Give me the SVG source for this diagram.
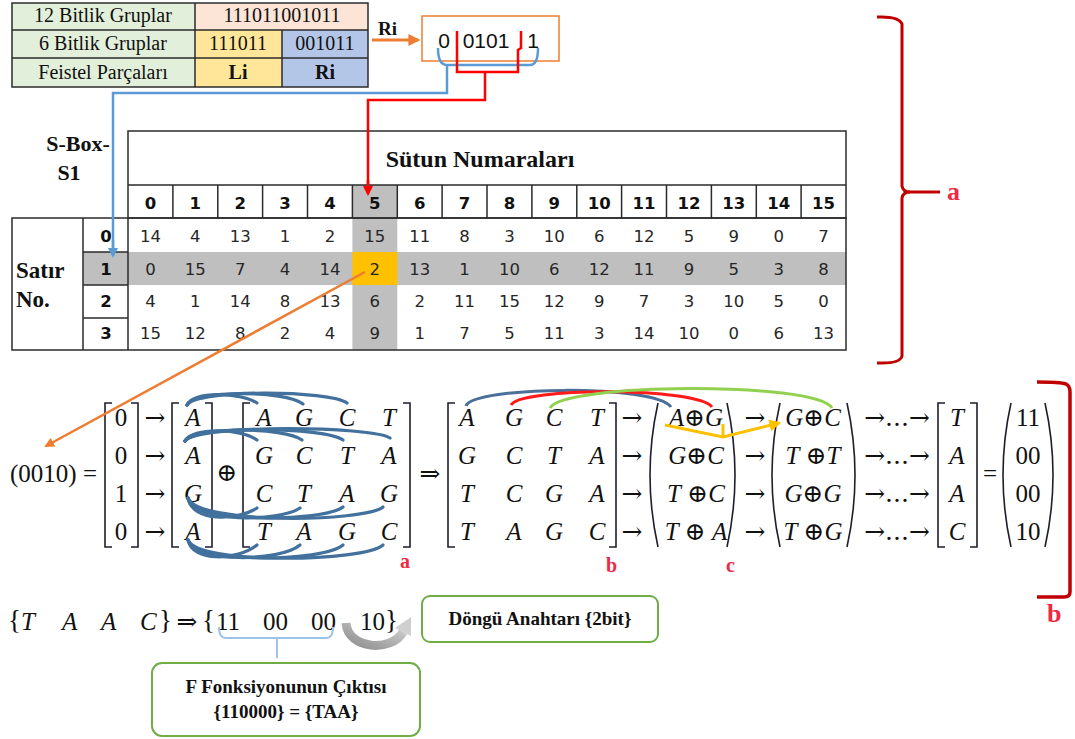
<svg xmlns="http://www.w3.org/2000/svg" width="1075" height="739" viewBox="0 0 1075 739">
<style>
.ser{font-family:"Liberation Serif","DejaVu Serif",serif;fill:#111}
.b{font-weight:bold}
.t20{font-size:20px}
.ctr{text-anchor:middle}
.grid{fill:none;stroke:#2b2b2b;stroke-width:1.5}
.hd{font-family:"DejaVu Sans","Liberation Sans",sans-serif;font-weight:bold;font-size:16.5px;fill:#111;text-anchor:middle}
.num{font-family:"DejaVu Sans","Liberation Sans",sans-serif;font-size:16.5px;fill:#262626;text-anchor:middle}
.m{font-family:"Liberation Serif","DejaVu Serif",serif;font-size:25px;fill:#111}
.mi{font-style:italic}
.ar{font-family:"DejaVu Serif","DejaVu Sans",serif;font-size:25px;fill:#111;text-anchor:middle}
.br{fill:none;stroke:#1e1e2e;stroke-width:1.6}
.arcb{fill:none;stroke:#41719c;stroke-width:3.2;stroke-linecap:round}
.lab{font-family:"Liberation Serif","DejaVu Serif",serif;font-weight:bold;fill:#ee2a45}
.box{fill:#fff;stroke:#70ad47;stroke-width:2}
</style>
<defs>
<marker id="ah-o" viewBox="0 0 10 10" refX="8" refY="5" markerWidth="4" markerHeight="4" orient="auto"><path d="M0,0 L10,5 L0,10 z" fill="#ed7d31"/></marker>
<marker id="ah-b" viewBox="0 0 10 10" refX="8" refY="5" markerWidth="4" markerHeight="4" orient="auto"><path d="M0,0 L10,5 L0,10 z" fill="#5b9bd5"/></marker>
<marker id="ah-r" viewBox="0 0 10 10" refX="8" refY="5" markerWidth="4" markerHeight="4" orient="auto"><path d="M0,0 L10,5 L0,10 z" fill="#ff0000"/></marker>
<marker id="ah-y" viewBox="0 0 10 10" refX="8" refY="5" markerWidth="4" markerHeight="4" orient="auto"><path d="M0,0 L10,5 L0,10 z" fill="#ffc000"/></marker>
<linearGradient id="gg" x1="0" y1="1" x2="1" y2="0"><stop offset="0" stop-color="#8f8f8f"/><stop offset="1" stop-color="#d4d4d4"/></linearGradient>
</defs>

<g id="bit-table">
<rect x="12" y="3" width="183" height="84" fill="#e2efda"/>
<rect x="195" y="3" width="173" height="27" fill="#fce4d6"/>
<rect x="195" y="30" width="87" height="57" fill="#ffe699"/>
<rect x="282" y="30" width="86" height="57" fill="#b4c6e7"/>
<rect x="12" y="3" width="356" height="84" class="grid"/>
<path class="grid" d="M12,30 H368 M12,58 H368 M195,3 V87 M282,30 V87"/>
<text class="ser t20 ctr" x="103" y="22">12 Bitlik Gruplar</text>
<text class="ser t20 ctr" x="282" y="22">111011001011</text>
<text class="ser t20 ctr" x="103" y="50">6 Bitlik Gruplar</text>
<text class="ser t20 ctr" x="238" y="50">111011</text>
<text class="ser t20 ctr" x="325" y="50">001011</text>
<text class="ser t20 ctr" x="103" y="79">Feistel Parçaları</text>
<text class="ser t20 ctr b" x="238" y="79">Li</text>
<text class="ser t20 ctr b" x="325" y="79">Ri</text>
</g>

<g id="ri-box">
<rect x="422" y="16" width="137" height="45" fill="#fff" stroke="#ed7d31" stroke-width="1.5"/>
<text x="444" y="48" font-family="Liberation Sans, sans-serif" font-size="21" fill="#111" text-anchor="middle">0</text>
<text x="486" y="48" font-family="Liberation Sans, sans-serif" font-size="21" fill="#111" text-anchor="middle">0101</text>
<text x="533" y="48" font-family="Liberation Sans, sans-serif" font-size="21" fill="#111" text-anchor="middle">1</text>
<text class="ser b" x="378" y="35" font-size="19">Ri</text>
</g>

<g id="sbox">
<rect x="352.4" y="185" width="44.9" height="165" fill="#bfbfbf"/>
<rect x="83" y="252" width="763" height="33" fill="#bfbfbf"/>
<rect x="352.4" y="252" width="44.9" height="33" fill="#ffc000"/>
<rect x="128" y="131" width="718" height="87" class="grid"/>
<path class="grid" d="M128,185 H846 M172.9,185 V218 M217.8,185 V218 M262.6,185 V218 M307.5,185 V218 M352.4,185 V218 M397.3,185 V218 M442.1,185 V218 M487,185 V218 M531.9,185 V218 M576.8,185 V218 M621.6,185 V218 M666.5,185 V218 M711.4,185 V218 M756.3,185 V218 M801.1,185 V218"/>
<rect x="12" y="218" width="834" height="132" class="grid"/>
<path class="grid" d="M83,218 V350 M128,218 V350 M83,252 H128 M83,285 H128 M83,318 H128"/>
<text class="ser b" x="78" y="151" font-size="22" text-anchor="middle">S-Box-</text>
<text class="ser b" x="69" y="180" font-size="22" text-anchor="middle">S1</text>
<text class="ser b" x="480" y="167" font-size="24" text-anchor="middle">Sütun Numaraları</text>
<text class="ser b" x="16" y="278" font-size="23">Satır</text>
<text class="ser b" x="16" y="307" font-size="23">No.</text>
<g class="hd">
<text x="150.4" y="209">0</text><text x="195.3" y="209">1</text><text x="240.2" y="209">2</text><text x="285.1" y="209">3</text><text x="330" y="209">4</text><text x="374.8" y="209">5</text><text x="419.7" y="209">6</text><text x="464.6" y="209">7</text><text x="509.4" y="209">8</text><text x="554.3" y="209">9</text><text x="599.2" y="209">10</text><text x="644.1" y="209">11</text><text x="689" y="209">12</text><text x="733.8" y="209">13</text><text x="778.7" y="209">14</text><text x="823.6" y="209">15</text>
<text x="106" y="242">0</text><text x="106" y="275">1</text><text x="106" y="307">2</text><text x="106" y="339">3</text>
</g>
<g class="num">
<text x="150.4" y="242">14</text><text x="195.3" y="242">4</text><text x="240.2" y="242">13</text><text x="285.1" y="242">1</text><text x="330" y="242">2</text><text x="374.8" y="242">15</text><text x="419.7" y="242">11</text><text x="464.6" y="242">8</text><text x="509.4" y="242">3</text><text x="554.3" y="242">10</text><text x="599.2" y="242">6</text><text x="644.1" y="242">12</text><text x="689" y="242">5</text><text x="733.8" y="242">9</text><text x="778.7" y="242">0</text><text x="823.6" y="242">7</text>
<text x="150.4" y="275">0</text><text x="195.3" y="275">15</text><text x="240.2" y="275">7</text><text x="285.1" y="275">4</text><text x="330" y="275">14</text><text x="374.8" y="275">2</text><text x="419.7" y="275">13</text><text x="464.6" y="275">1</text><text x="509.4" y="275">10</text><text x="554.3" y="275">6</text><text x="599.2" y="275">12</text><text x="644.1" y="275">11</text><text x="689" y="275">9</text><text x="733.8" y="275">5</text><text x="778.7" y="275">3</text><text x="823.6" y="275">8</text>
<text x="150.4" y="307">4</text><text x="195.3" y="307">1</text><text x="240.2" y="307">14</text><text x="285.1" y="307">8</text><text x="330" y="307">13</text><text x="374.8" y="307">6</text><text x="419.7" y="307">2</text><text x="464.6" y="307">11</text><text x="509.4" y="307">15</text><text x="554.3" y="307">12</text><text x="599.2" y="307">9</text><text x="644.1" y="307">7</text><text x="689" y="307">3</text><text x="733.8" y="307">10</text><text x="778.7" y="307">5</text><text x="823.6" y="307">0</text>
<text x="150.4" y="339">15</text><text x="195.3" y="339">12</text><text x="240.2" y="339">8</text><text x="285.1" y="339">2</text><text x="330" y="339">4</text><text x="374.8" y="339">9</text><text x="419.7" y="339">1</text><text x="464.6" y="339">7</text><text x="509.4" y="339">5</text><text x="554.3" y="339">11</text><text x="599.2" y="339">3</text><text x="644.1" y="339">14</text><text x="689" y="339">10</text><text x="733.8" y="339">0</text><text x="778.7" y="339">6</text><text x="823.6" y="339">13</text>
</g>
</g>

<g id="brace-a">
<path d="M877,17 Q899,16 902,24 V186 Q903,192 910,192 Q903,192 902,198 V356 Q900,364 877,363" fill="none" stroke="#c00000" stroke-width="3"/>
<path d="M908,192 H940" stroke="#c00000" stroke-width="3"/>
<text class="lab" x="947" y="200" font-size="26">a</text>
</g>

<g id="bracket-b">
<path d="M1037,382 Q1060,382 1066,384 Q1070,386 1070,392 V592 Q1070,597 1064,597 H1037" fill="none" stroke="#c00000" stroke-width="3.5"/>
<text class="lab" x="1047" y="622" font-size="26">b</text>
</g>

<g id="matrix-eq" class="m">
<text x="10" y="482">(0010) =</text>
<path class="br" d="M112,403 H105 V547 H112 M131,403 H138 V547 H131"/>
<text class="ctr" x="121" y="426">0</text><text class="ctr" x="121" y="464">0</text><text class="ctr" x="121" y="502">1</text><text class="ctr" x="121" y="540">0</text>
<text class="ar" x="155" y="426">→</text><text class="ar" x="155" y="464">→</text><text class="ar" x="155" y="502">→</text><text class="ar" x="155" y="540">→</text>
<path class="br" d="M179,403 H172 V547 H179 M205,403 H212 V547 H205"/>
<g class="mi ctr"><text x="193" y="426">A</text><text x="193" y="464">A</text><text x="193" y="502">G</text><text x="193" y="540">A</text></g>
<text class="ar" x="227" y="481" font-size="22">⊕</text>
<path class="br" d="M250,403 H243 V547 H250 M403,403 H410 V547 H403"/>
<g class="mi ctr">
<text x="264" y="426">A</text><text x="304" y="426">G</text><text x="347" y="426">C</text><text x="389" y="426">T</text>
<text x="264" y="464">G</text><text x="304" y="464">C</text><text x="347" y="464">T</text><text x="389" y="464">A</text>
<text x="264" y="502">C</text><text x="304" y="502">T</text><text x="347" y="502">A</text><text x="389" y="502">G</text>
<text x="264" y="540">T</text><text x="304" y="540">A</text><text x="347" y="540">G</text><text x="389" y="540">C</text>
</g>
<text class="ar" x="430" y="482">⇒</text>
<path class="br" d="M455,403 H448 V547 H455 M609,403 H616 V547 H609"/>
<g class="mi ctr">
<text x="467" y="426">A</text><text x="514" y="426">G</text><text x="554" y="426">C</text><text x="597" y="426">T</text>
<text x="467" y="464">G</text><text x="514" y="464">C</text><text x="554" y="464">T</text><text x="597" y="464">A</text>
<text x="467" y="502">T</text><text x="514" y="502">C</text><text x="554" y="502">G</text><text x="597" y="502">A</text>
<text x="467" y="540">T</text><text x="514" y="540">A</text><text x="554" y="540">G</text><text x="597" y="540">C</text>
</g>
<text class="ar" x="632" y="426">→</text><text class="ar" x="632" y="464">→</text><text class="ar" x="632" y="502">→</text><text class="ar" x="632" y="540">→</text>
<path class="br" d="M658,403 Q642,475 658,547 M727,403 Q743,475 727,547"/>
<text class="ctr" x="696" y="426"><tspan class="mi">A</tspan>⊕<tspan class="mi">G</tspan></text>
<text class="ctr" x="696" y="464"><tspan class="mi">G</tspan>⊕<tspan class="mi">C</tspan></text>
<text class="ctr" x="696" y="502"><tspan class="mi">T</tspan> ⊕<tspan class="mi">C</tspan></text>
<text class="ctr" x="696" y="540"><tspan class="mi">T</tspan> ⊕ <tspan class="mi">A</tspan></text>
<text class="ar" x="755" y="426">→</text><text class="ar" x="755" y="464">→</text><text class="ar" x="755" y="502">→</text><text class="ar" x="755" y="540">→</text>
<path class="br" d="M780,403 Q764,475 780,547 M847,403 Q863,475 847,547"/>
<text class="ctr" x="813" y="426"><tspan class="mi">G</tspan>⊕<tspan class="mi">C</tspan></text>
<text class="ctr" x="813" y="464"><tspan class="mi">T</tspan> ⊕<tspan class="mi">T</tspan></text>
<text class="ctr" x="813" y="502"><tspan class="mi">G</tspan>⊕<tspan class="mi">G</tspan></text>
<text class="ctr" x="813" y="540"><tspan class="mi">T</tspan> ⊕<tspan class="mi">G</tspan></text>
<text class="ar" x="897" y="426">→...→</text><text class="ar" x="897" y="464">→...→</text><text class="ar" x="897" y="502">→...→</text><text class="ar" x="897" y="540">→...→</text>
<path class="br" d="M945,403 H938 V547 H945 M970,403 H977 V547 H970"/>
<g class="mi ctr"><text x="957" y="426">T</text><text x="957" y="464">A</text><text x="957" y="502">A</text><text x="957" y="540">C</text></g>
<text class="ctr" x="990" y="482">=</text>
<path class="br" d="M1011,403 Q995,475 1011,547 M1045,403 Q1061,475 1045,547"/>
<text class="ctr" x="1028" y="426">11</text><text class="ctr" x="1028" y="464">00</text><text class="ctr" x="1028" y="502">00</text><text class="ctr" x="1028" y="540">10</text>
<text class="lab" x="400" y="568" font-size="20">a</text>
<text class="lab" x="606" y="572" font-size="20">b</text>
<text class="lab" x="726" y="572" font-size="20">c</text>
</g>

<g id="bottom-eq" class="m">
<text x="8" y="629" font-size="27">{</text>
<g class="mi"><text x="21" y="630">T</text><text x="62" y="630">A</text><text x="101" y="630">A</text><text x="140" y="630">C</text></g>
<text x="159" y="629" font-size="27">}</text>
<text class="ar" x="187" y="630" font-size="24">⇒</text>
<text x="202" y="629" font-size="27">{</text>
<text x="216" y="630">11</text><text x="263" y="630">00</text><text x="311" y="630">00</text><text x="360" y="630">10</text>
<text x="385" y="629" font-size="27">}</text>
</g>

<g id="dongu-box">
<rect class="box" x="422" y="596" width="236" height="46" rx="8"/>
<text class="ser b ctr" x="540" y="625" font-size="19">Döngü Anahtarı {2bit}</text>
</g>

<g id="f-box">
<rect class="box" x="152" y="663" width="268" height="73" rx="10"/>
<text class="ser b ctr" x="286" y="693" font-size="19">F Fonksiyonunun Çıktısı</text>
<text class="ser b ctr" x="286" y="718" font-size="19">{110000} = {TAA}</text>
</g>

<g id="connectors">
<path d="M372,40 H418" stroke="#ed7d31" stroke-width="3" fill="none" marker-end="url(#ah-o)"/>
<path d="M438,48 Q438,65 447,65 M538,48 Q538,65 530,65 M447,65 H530 M447,65 V93 H113 V254" stroke="#5b9bd5" stroke-width="2.5" fill="none"/>
<path d="M113,240 V256" stroke="#5b9bd5" stroke-width="2.5" fill="none" marker-end="url(#ah-b)"/>
<path d="M457,31 V72 H518 V50 L521,48 V31 M485,72 V100 H368 V192" stroke="#ff0000" stroke-width="2.5" fill="none"/>
<path d="M368,180 V194" stroke="#ff0000" stroke-width="2.5" fill="none" marker-end="url(#ah-r)"/>
<path d="M365,272 L46,446" stroke="#ed7d31" stroke-width="2.5" fill="none" marker-end="url(#ah-o)"/>
<g class="arcb">
<path d="M187,405 C192,391 240,392 257,403"/>
<path d="M187,405 C194,390 285,390 303,404"/>
<path d="M187,405 C196,389 330,390 347,403"/>
<path d="M185,441 C192,427 240,428 257,440"/>
<path d="M185,441 C194,426 285,427 302,440"/>
<path d="M185,441 C196,425 325,427 343,440"/>
<path d="M185,441 C198,424 372,426 390,438"/>
<path d="M188,498 C192,522 237,521 257,508"/>
<path d="M188,498 C194,523 280,522 300,508"/>
<path d="M188,498 C196,524 323,522 343,507"/>
<path d="M188,498 C198,525 365,522 383,507"/>
<path d="M188,540 C192,562 237,561 257,545"/>
<path d="M188,540 C194,563 280,562 300,545"/>
<path d="M188,540 C196,564 323,562 343,545"/>
<path d="M188,540 C198,565 365,562 383,545"/>
</g>
<path d="M466,406 C472,386 655,384 671,407" fill="none" stroke="#4a6f98" stroke-width="3"/>
<path d="M511,405 C520,387 698,387 712,407" fill="none" stroke="#ff1a1a" stroke-width="3"/>
<path d="M550,408 C562,383 815,381 832,408" fill="none" stroke="#92d050" stroke-width="3"/>
<path d="M665,425 L723,437 L779,423" stroke="#ffc000" stroke-width="3" fill="none" marker-end="url(#ah-y)"/>
<path d="M723,424 V437" stroke="#ffc000" stroke-width="3"/>
<path d="M219,627 Q219,638 226,638 H326 Q333,638 333,627 M277,638 V658" stroke="#9dc3e6" stroke-width="2" fill="none"/>
<path d="M346,623 C348,650 392,652 403,632" stroke="url(#gg)" stroke-width="9" fill="none"/>
<polygon points="411,617 411,636 395,628" fill="#cfcfcf"/>
</g>
</svg>
